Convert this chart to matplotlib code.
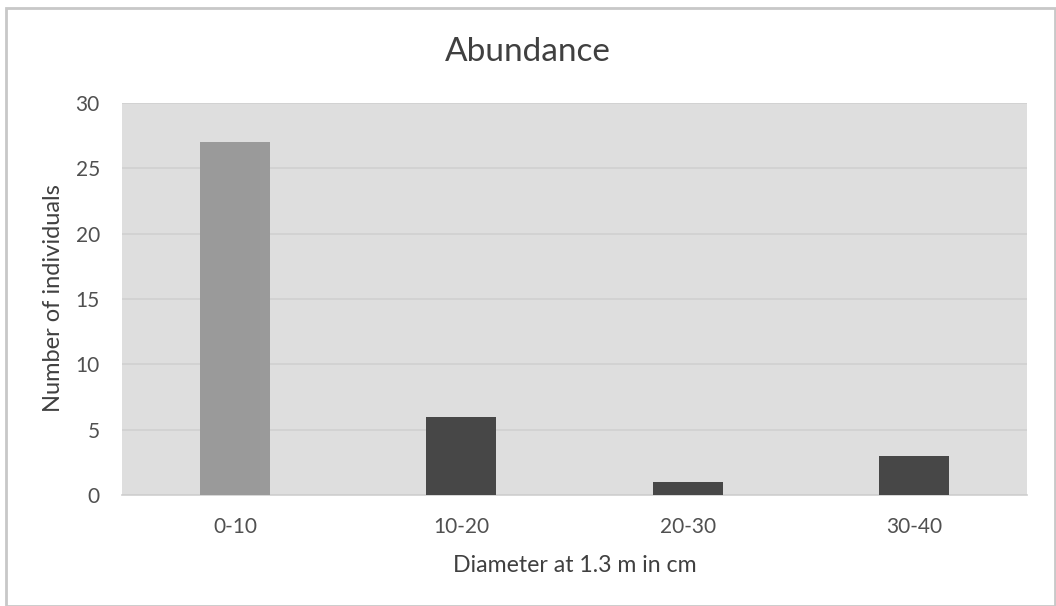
import matplotlib
matplotlib.use("Agg")
import matplotlib.pyplot as plt
from matplotlib.patches import Rectangle

categories = ["0-10", "10-20", "20-30", "30-40"]
values = [27, 6, 1, 3]
bar_colors = ["#9a9a9a", "#474747", "#474747", "#474747"]
yticks = [0, 5, 10, 15, 20, 25, 30]

plt.rcParams['font.family'] = ['Lato', 'DejaVu Sans']

W, H = 1056, 606
fig = plt.figure(figsize=(W / 100, H / 100), dpi=100)
fig.patch.set_facecolor("white")

# outer border
fig.patches.append(Rectangle((6 / W, 0), (W - 7) / W, (H - 8) / H, transform=fig.transFigure,
                             fill=False, edgecolor="#c8c8c8", linewidth=2))

left, right, top, bottom = 122, 1027, 103, 495
ax = fig.add_axes([left / W, 1 - bottom / H, (right - left) / W, (bottom - top) / H])
ax.set_facecolor("#dedede")

x = range(len(categories))
ax.bar(x, values, width=0.31, color=bar_colors, zorder=3)
ax.set_xlim(-0.5, len(categories) - 0.5)
ax.set_ylim(0, 30)
ax.set_yticks(yticks)
ax.set_xticks(list(x))
ax.set_xticklabels(categories)
ax.yaxis.grid(True, color="#d0d0d0", linewidth=1.2, zorder=1)
ax.set_axisbelow(True)
for s in ["top", "right", "left"]:
    ax.spines[s].set_visible(False)
ax.spines["bottom"].set_color("#cfcfcf")
ax.spines["bottom"].set_linewidth(1.2)
ax.tick_params(axis="both", length=0, labelsize=15, labelcolor="#505050")
ax.tick_params(axis="y", pad=16)
ax.tick_params(axis="x", pad=16)

fig.text(528 / W, 1 - 52 / H, "Abundance", fontsize=24, color="#404040", ha="center", va="center")
fig.text(575 / W, 1 - 565 / H, "Diameter at 1.3 m in cm", fontsize=16.7, color="#404040",
         ha="center", va="center")
fig.text(54 / W, 1 - 298 / H, "Number of individuals", fontsize=17, color="#404040",
         ha="center", va="center", rotation=90)

fig.savefig("out.png", dpi=100, facecolor="white")
